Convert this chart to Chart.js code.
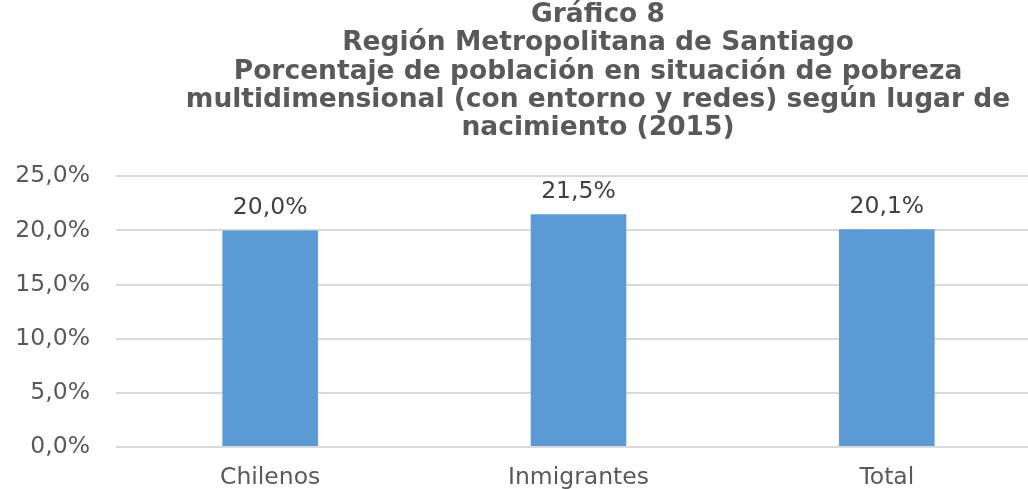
<!DOCTYPE html>
<html>
<head>
<meta charset="utf-8">
<script src="https://cdn.jsdelivr.net/npm/chart.js@4.4.1/dist/chart.umd.min.js"></script>
<style>
  html, body { margin: 0; padding: 0; background: #fff; overflow: hidden; }
  #wrap { width: 1028px; height: 489px; overflow: hidden; }
</style>
</head>
<body>
<div id="wrap">
  <canvas id="grafico" width="1196" height="489"></canvas>
</div>
<script>
// datos del gráfico
const categorias = ["Chilenos", "Inmigrantes", "Total"];
const porcentajes = [20.0, 21.5, 20.1];
const titulo = [
  "Gráfico 8",
  "Región Metropolitana de Santiago",
  "Porcentaje de población en situación de pobreza",
  "multidimensional (con entorno y redes) según lugar de",
  "nacimiento (2015)"
];
const ejeMin = 0;
const ejeMax = 25;
const ejePaso = 5;

const fuente = "'DejaVu Sans', Verdana, sans-serif";

const formatoPct = (v) => v.toFixed(1).replace(".", ",") + "%";

// etiquetas encima de cada barra
const etiquetasBarras = {
  id: "etiquetasBarras",
  afterDatasetsDraw(chart) {
    const ctx = chart.ctx;
    const meta = chart.getDatasetMeta(0);
    ctx.save();
    ctx.font = "23.5px " + fuente;
    ctx.fillStyle = "#404040";
    ctx.textAlign = "center";
    ctx.textBaseline = "alphabetic";
    meta.data.forEach((bar, i) => {
      ctx.fillText(formatoPct(porcentajes[i]), bar.x, bar.y - 16);
    });
    ctx.restore();
  },
};

const ctx = document.getElementById("grafico").getContext("2d");
new Chart(ctx, {
  type: "bar",
  data: {
    labels: categorias,
    datasets: [
      {
        label: "Porcentaje",
        data: porcentajes,
        backgroundColor: "#5B9BD5",
        borderWidth: 0,
        categoryPercentage: 1,
        barPercentage: 0.31,
      },
    ],
  },
  options: {
    responsive: false,
    animation: false,
    devicePixelRatio: 1,
    layout: { padding: 0 },
    plugins: {
      legend: { display: false },
      tooltip: { enabled: false },
      title: {
        display: true,
        text: titulo,
        color: "#595959",
        font: { family: fuente, size: 26.5, weight: "bold", lineHeight: "28.25px" },
        padding: { top: 1, bottom: 34 },
      },
    },
    scales: {
      x: {
        grid: { display: false },
        border: { display: false },
        ticks: {
          color: "#595959",
          font: { family: fuente, size: 23.5 },
          padding: 9,
        },
        afterFit: (s) => { s.height = 42; },
      },
      y: {
        min: ejeMin,
        max: ejeMax,
        ticks: {
          stepSize: ejePaso,
          color: "#595959",
          font: { family: fuente, size: 23.5 },
          padding: 26,
          callback: (v) => formatoPct(v),
        },
        grid: { color: "#D9D9D9", lineWidth: 2, drawTicks: false },
        border: { display: false },
        afterFit: (s) => { s.width = 116; },
      },
      y2: {
        position: "right",
        grid: { drawOnChartArea: false, drawTicks: false },
        border: { display: false },
        ticks: { display: false },
        afterFit: (s) => { s.width = 155; },
      },
    },
  },
  plugins: [etiquetasBarras],
});
</script>
</body>
</html>
